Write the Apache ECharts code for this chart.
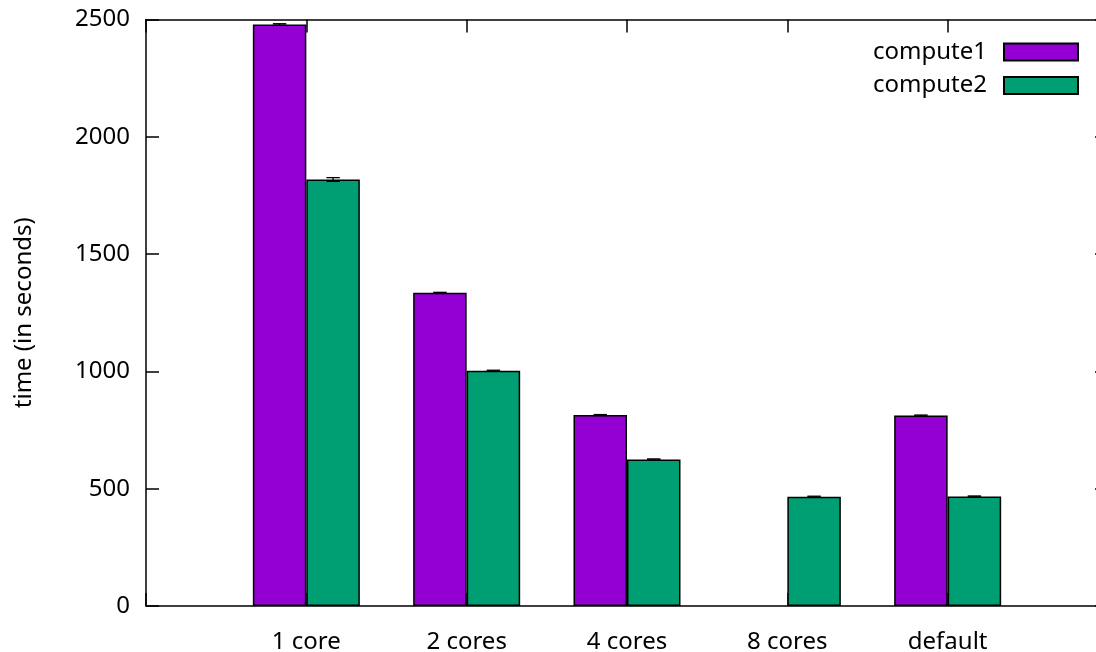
<!DOCTYPE html>
<html><head><meta charset="utf-8">
<script src="https://cdn.jsdelivr.net/npm/echarts@6/dist/echarts.min.js"></script>
<style>html,body{margin:0;padding:0;background:#fff}#c{width:1096px;height:652px}</style>
</head><body><div id="c"></div>
<script>
const categories = ['1 core', '2 cores', '4 cores', '8 cores', 'default'];
const compute1 = [2479, 1335, 814, null, 812];
const compute2 = [1818, 1003, 625, 466, 467];
const compute1Err = [3, 2, 2, null, 2];
const compute2Err = [8, 2, 2, 2, 2];
const yTicks = [0, 500, 1000, 1500, 2000, 2500];

const FONT = 'Noto Sans';
const FS = 24;
const BAR_W = 53.5;
const C1 = '#9400d3', C2 = '#009e73';

function pairs(vals) {
  const out = [];
  vals.forEach((v, i) => { if (v !== null) out.push([i, v]); });
  return out;
}
function errData(vals, errs) {
  const out = [];
  vals.forEach((v, i) => { if (v !== null && errs[i] !== null) out.push([i, v - errs[i], v + errs[i]]); });
  return out;
}
function errSeries(vals, errs, offset) {
  return {
    type: 'custom', xAxisIndex: 0, yAxisIndex: 0, z: 5,
    data: errData(vals, errs),
    renderItem: function (params, api) {
      const lo = api.coord([api.value(0), api.value(1)]);
      const hi = api.coord([api.value(0), api.value(2)]);
      const x = lo[0] + offset, cw = 6.7;
      const st = { stroke: '#000', lineWidth: 1.3 };
      return { type: 'group', children: [
        { type: 'line', shape: { x1: x, y1: lo[1], x2: x, y2: hi[1] }, style: st },
        { type: 'line', shape: { x1: x - cw, y1: lo[1], x2: x + cw, y2: lo[1] }, style: st },
        { type: 'line', shape: { x1: x - cw, y1: hi[1], x2: x + cw, y2: hi[1] }, style: st }
      ]};
    }
  };
}

const chart = echarts.init(document.getElementById('c'), null, { renderer: 'canvas' });
const axisLine = { show: true, onZero: false, lineStyle: { color: '#000', width: 1.5 } };
const tick = { show: true, inside: true, length: 13, lineStyle: { color: '#000', width: 1.5 } };
chart.setOption({
  animation: false,
  textStyle: { fontFamily: FONT },
  grid: { left: 146, width: 962, top: 19.5, height: 586.5, containLabel: false, outerBoundsMode: 'none' },
  legend: {
    orient: 'vertical', right: 17, top: 40, padding: 0,
    itemWidth: 74, itemHeight: 17, itemGap: 9.5,
    align: 'right', icon: 'rect',
    textStyle: { fontFamily: FONT, fontSize: FS, lineHeight: 17, color: '#000', padding: [0, 12, 0, 0] },
    data: ['compute1', 'compute2']
  },
  xAxis: [{
    type: 'value', min: -1, max: 5, interval: 1, position: 'bottom',
    axisLine: axisLine, axisTick: tick,
    splitLine: { show: false },
    axisLabel: {
      margin: 24, fontSize: FS, color: '#000', fontFamily: FONT,
      formatter: v => (v >= 0 && v < categories.length) ? categories[v] : ''
    }
  }, {
    type: 'value', min: -1, max: 5, interval: 1, position: 'top',
    axisLine: axisLine, axisTick: tick,
    splitLine: { show: false }, axisLabel: { show: false }
  }],
  yAxis: [{
    type: 'value', min: yTicks[0], max: yTicks[yTicks.length - 1], interval: 500, position: 'left',
    name: 'time (in seconds)', nameLocation: 'middle', nameRotate: 90, nameGap: 110,
    nameTextStyle: { fontSize: FS, color: '#000', fontFamily: FONT },
    axisLine: axisLine, axisTick: tick,
    splitLine: { show: false },
    axisLabel: { margin: 16, fontSize: FS, color: '#000', fontFamily: FONT, formatter: v => String(v) }
  }, {
    type: 'value', min: yTicks[0], max: yTicks[yTicks.length - 1], interval: 500, position: 'right',
    axisLine: axisLine, axisTick: tick,
    splitLine: { show: false }, axisLabel: { show: false }
  }],
  series: [
    { name: 'compute1', type: 'bar', xAxisIndex: 0, yAxisIndex: 0, data: pairs(compute1),
      barWidth: BAR_W, barGap: '0%',
      itemStyle: { color: C1, borderColor: '#000', borderWidth: 1.5 } },
    { name: 'compute2', type: 'bar', xAxisIndex: 0, yAxisIndex: 0, data: pairs(compute2),
      barWidth: BAR_W, barGap: '0%',
      itemStyle: { color: C2, borderColor: '#000', borderWidth: 1.5 } },
    errSeries(compute1, compute1Err, -BAR_W / 2),
    errSeries(compute2, compute2Err, BAR_W / 2)
  ]
});
</script></body></html>
